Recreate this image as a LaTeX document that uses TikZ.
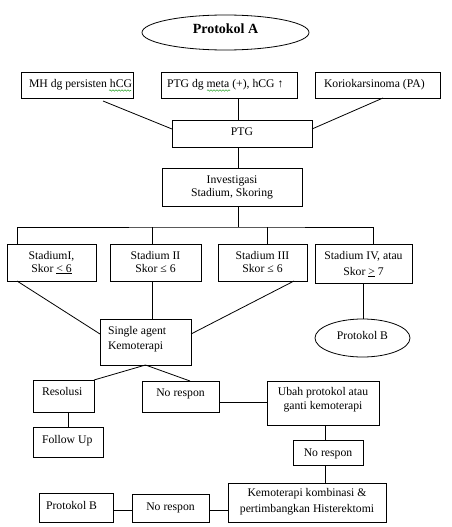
\documentclass[tikz,border=0pt]{standalone}
\usepackage{fontspec}
\setmainfont{Liberation Serif}
\usetikzlibrary{calc,shapes.geometric,decorations.pathmorphing}
\definecolor{wavegreen}{RGB}{60,170,60}
% centred box text: width, height, top pad, text
\newcommand\bxc[4]{\parbox[c][#2pt][t]{#1pt}{\vspace*{#3pt}\centering\strut #4\par}}
% left box text: width, height, top pad, left pad, text
\newcommand\bxl[5]{\parbox[c][#2pt][t]{#1pt}{\vspace*{#3pt}\raggedright\leftskip=#4pt\strut #5\par}}
\begin{document}
\begin{tikzpicture}[x=1pt,y=-1pt,line width=0.8pt,
  every node/.style={font=\fontsize{11.7}{14}\selectfont},
  box/.style={draw,inner sep=0pt,outer sep=0pt,anchor=north west},
  oval/.style={draw,ellipse,inner sep=0pt,outer sep=0pt},
  wave/.style={draw=wavegreen,line width=0.6pt,decorate,decoration={snake,amplitude=0.7pt,segment length=3pt}}]
\useasboundingbox (0,0) rectangle (451,527);

% top
\node[oval,minimum width=167pt,minimum height=35pt,font=\fontsize{14}{16}\selectfont\bfseries] (pa) at (225.5,32.5) {\raisebox{4pt}[\height][\depth]{Protokol A}};
\node[box] (mh) at (21,72) {\bxl{112}{26}{6.2}{8}{MH dg persisten hCG}};
\node[box] (meta) at (161,72) {\bxl{136}{26}{6.2}{6}{PTG dg meta (+), hCG ↑}};
\node[box] (kor) at (315,72) {\bxl{125}{26}{6.2}{9}{Koriokarsinoma (PA)}};
\node[box] (ptg) at (172,120) {\bxc{140}{27}{5.9}{PTG}};
\node[box] (inv) at (162,168) {\bxc{140}{38}{5.5}{Investigasi\\[-0.5pt]Stadium, Skoring}};

% stadium
\node[box] (s1) at (7,244) {\bxc{89}{37}{5.2}{StadiumI,\\[-1pt]Skor \underline{< 6}}};
\node[box] (s2) at (110,244) {\bxc{91}{37}{5.2}{Stadium II\\[-1pt]Skor ≤ 6}};
\node[box] (s3) at (218,244) {\bxc{89}{37}{5.2}{Stadium III\\[-1pt]Skor ≤ 6}};
\node[box] (s4) at (315,244) {\bxc{97}{39}{5.2}{Stadium IV, atau\\[2pt]Skor \underline{>} 7}};

\node[box] (single) at (100,319) {\bxl{91}{46}{5.2}{8}{Single agent\\[1pt]Kemoterapi}};
\node[oval,minimum width=95pt,minimum height=38pt] (pb) at (362.5,338) {\raisebox{2.7pt}[\height][\depth]{Protokol B}};

% lower part
\node[box] (res) at (33,380) {\bxl{61}{32}{5.9}{9}{Resolusi}};
\node[box] (fu) at (33,427) {\bxl{70}{30}{6.2}{9}{Follow Up}};
\node[box] (nr1) at (142,381) {\bxc{77}{31}{5.2}{No respon}};
\node[box] (ubah) at (267,381) {\bxc{112}{44}{4.2}{Ubah protokol atau\\ganti kemoterapi}};
\node[box] (nr2) at (293,440) {\bxc{70}{25}{6.8}{No respon}};
\node[box] (kemo) at (228,483) {\bxc{158}{39}{3.5}{Kemoterapi kombinasi \&\\[2pt]pertimbangkan Histerektomi}};
\node[box] (nr3) at (132,494) {\bxc{77}{28}{6.9}{No respon}};
\node[box] (pb2) at (39,493) {\bxl{74}{29}{6.2}{7}{Protokol B}};

% spelling waves
\draw[wave] ($(mh.north west)+(88,18.5)$) -- ($(mh.north west)+(110,18.5)$);
\draw[wave] ($(meta.north west)+(46,18.5)$) -- ($(meta.north west)+(69,18.5)$);

% connectors
\draw ($(mh.south east)+(-30,3)$) -- ($(ptg.north west)+(0,9)$);
\draw ($(ptg.north)+(-4,0)$) coordinate (c1) -- (c1 |- meta.south);
\draw ($(kor.south west)+(68,0)$) -- ($(ptg.north east)+(0,9)$);
\draw ($(ptg.south)+(-4,0)$) coordinate (c2) -- (c2 |- inv.north);
\coordinate (bus) at ($(inv.south)+(6,21)$);
\draw (bus |- inv.south) -- (bus);
\draw ($(s1.north west)+(10,0)$) |- (bus) -| ($(s4.north)+(9.5,0)$);
\draw ($(s2.north)+(-3.5,0)$) coordinate (c3) -- (c3 |- bus);
\draw ($(s3.north)+(4.5,0)$) coordinate (c4) -- (c4 |- bus);
\draw ($(s1.south west)+(10,0)$) -- ($(single.west)+(0,-8)$);
\draw ($(s2.south)+(-3.5,0)$) coordinate (c5) -- (c5 |- single.north);
\draw ($(s3.south east)+(-13,0)$) -- ($(single.east)+(0,-8)$);
\draw ($(s4.south)+(-0.5,0)$) coordinate (c10) -- (c10 |- pb.north);
\draw (single.south) -- (res.north east);
\draw (single.south) -- ($(nr1.north)+(9.5,0)$);
\draw ($(res.south)+(4.5,0)$) coordinate (c6) -- (c6 |- fu.north);
\draw ($(nr1.east)+(0,5.5)$) coordinate (c7) -- (c7 -| ubah.west);
\draw ($(ubah.south)+(2,0)$) coordinate (c8) -- (c8 |- nr2.north);
\draw (c8 |- nr2.south) -- (c8 |- kemo.north);
\draw ($(kemo.west)+(0,8)$) coordinate (c9) -- (c9 -| nr3.east);
\draw (c9 -| nr3.west) -- (c9 -| pb2.east);
\end{tikzpicture}
\end{document}
